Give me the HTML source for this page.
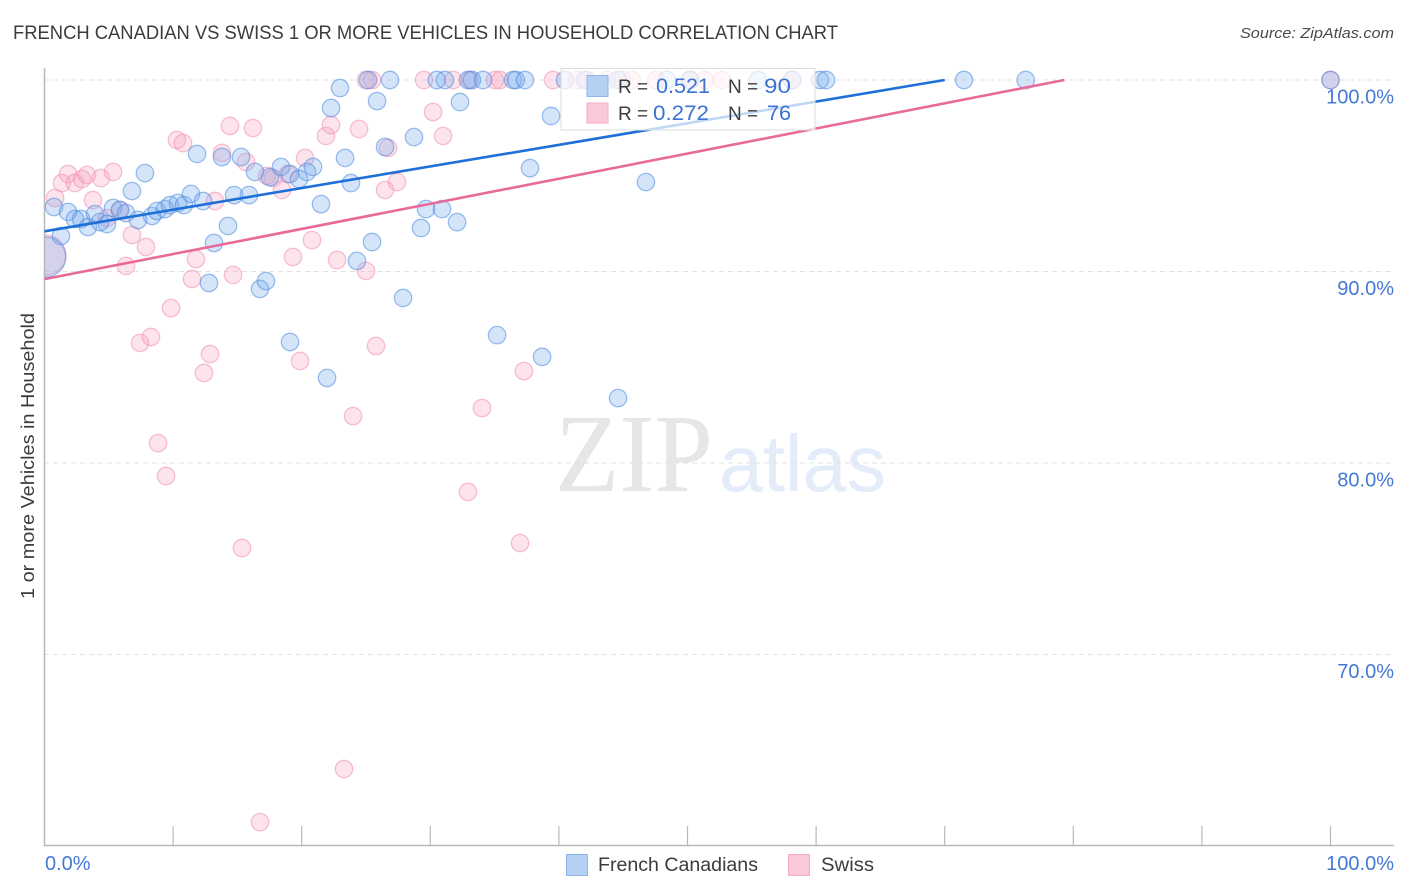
<!DOCTYPE html>
<html lang="en">
<head>
<meta charset="utf-8">
<title>French Canadian vs Swiss 1 or More Vehicles in Household Correlation Chart</title>
<style>
html,body{margin:0;padding:0;background:#fff;width:1406px;height:892px;overflow:hidden}
svg{display:block;font-family:"Liberation Sans",sans-serif}
</style>
</head>
<body>
<svg id="chart" width="1406" height="892" viewBox="0 0 1406 892">
  <defs><clipPath id="plot-clip"><rect x="45" y="60" width="1349" height="785"/></clipPath></defs>
  <text x="13" y="39" font-size="19" fill="#3c3c3c" textLength="825" lengthAdjust="spacingAndGlyphs">FRENCH CANADIAN VS SWISS 1 OR MORE VEHICLES IN HOUSEHOLD CORRELATION CHART</text>
  <text x="1394" y="38" font-size="15" font-style="italic" fill="#4a4a4a" text-anchor="end" textLength="154" lengthAdjust="spacingAndGlyphs">Source: ZipAtlas.com</text>
  <text x="555" y="491" font-size="111" font-family="'Liberation Serif',serif" fill="#e6e6e6" textLength="158" lengthAdjust="spacingAndGlyphs">ZIP</text>
  <text x="719" y="491" font-size="80" fill="#e3ecf8" textLength="167" lengthAdjust="spacingAndGlyphs">atlas</text>
  <g id="grid"></g>
  <g id="axes"></g>
  <g id="pink-points" clip-path="url(#plot-clip)"></g>
  <g id="blue-points" clip-path="url(#plot-clip)"></g>
  <g id="trends"></g>
  <text x="34" y="456" font-size="18.5" fill="#3c3c3c" text-anchor="middle" transform="rotate(-90 34 456)" textLength="286" lengthAdjust="spacingAndGlyphs">1 or more Vehicles in Household</text>

  <g>
    <rect x="561" y="68.5" width="254" height="61.5" fill="#fff" fill-opacity="0.72" stroke="#dcdcdc"/>
    <rect x="587" y="75.5" width="21" height="21" fill="#b5d0f3" stroke="#8fb6ea"/>
    <rect x="587" y="103" width="21" height="20" fill="#fcc9da" stroke="#f3aac3"/>
    <text x="618" y="93" font-size="19" fill="#3c3c3c">R =</text>
    <text x="656" y="93" font-size="21" fill="#3b73d1" textLength="54" lengthAdjust="spacingAndGlyphs">0.521</text>
    <text x="728" y="93" font-size="19" fill="#3c3c3c">N =</text>
    <text x="764" y="93" font-size="21" fill="#3b73d1" textLength="27" lengthAdjust="spacingAndGlyphs">90</text>
    <text x="618" y="120" font-size="19" fill="#3c3c3c">R =</text>
    <text x="653" y="120" font-size="21" fill="#3b73d1" textLength="56" lengthAdjust="spacingAndGlyphs">0.272</text>
    <text x="728" y="120" font-size="19" fill="#3c3c3c">N =</text>
    <text x="767" y="120" font-size="21" fill="#3b73d1" textLength="24" lengthAdjust="spacingAndGlyphs">76</text>
  </g>

  <g>
    <rect x="566.5" y="854.5" width="21" height="21" fill="#b5d0f3" stroke="#8fb6ea"/>
    <text x="598" y="871" font-size="19" fill="#3c3c3c" textLength="160" lengthAdjust="spacingAndGlyphs">French Canadians</text>
    <rect x="788.5" y="854.5" width="21" height="21" fill="#fcc9da" stroke="#f3aac3"/>
    <text x="821" y="871" font-size="19" fill="#3c3c3c" textLength="53" lengthAdjust="spacingAndGlyphs">Swiss</text>
  </g>
</svg>
<script>
const blueX = [0.74,1.83,1.28,2.37,2.84,3.38,3.93,4.32,4.86,5.33,5.87,6.34,6.80,7.27,7.81,8.36,8.75,9.37,9.76,10.38,10.85,11.39,11.86,12.33,13.18,12.79,13.80,14.27,14.74,15.28,15.90,16.37,16.76,17.22,17.53,18.39,19.09,19.09,19.79,20.41,20.88,21.50,21.97,22.28,22.98,23.37,23.83,24.30,25.47,25.86,26.48,27.88,28.73,29.28,29.67,30.91,32.08,32.31,35.19,37.75,38.69,39.39,44.60,46.77,25.16,26.87,30.5,31.14,32.93,33.24,34.1,36.43,36.66,37.36,40.47,42.0,44.6,48.4,50.2,55.48,58.13,60.3,60.77,71.5,76.3,100,0.1];
const blueY = [93.37,93.11,91.85,92.74,92.74,92.32,93.00,92.58,92.48,93.32,93.21,93.05,94.20,92.69,95.14,92.90,93.16,93.26,93.47,93.58,93.47,94.05,96.14,93.68,91.49,89.40,95.98,92.38,93.99,95.98,93.99,95.20,89.09,89.50,94.93,95.46,86.32,95.09,94.83,95.20,95.46,93.52,84.44,98.54,99.58,95.93,94.62,90.55,91.54,98.90,96.50,88.62,97.02,92.27,93.26,93.26,92.58,98.85,86.68,95.40,85.54,98.12,83.39,94.67,100,100,100,100,100,100,100,100,100,100,100,100,100,100,100,100,100,100,100,100,100,100,90.76];
const blueSizes = [1,1,1,1,1,1,1,1,1,1,1,1,1,1,1,1,1,1,1,1,1,1,1,1,1,1,1,1,1,1,1,1,1,1,1,1,1,1,1,1,1,1,1,1,1,1,1,1,1,1,1,1,1,1,1,1,1,1,1,1,1,1,1,1,1,1,1,1,1,1,1,1,1,1,1,1,1,1,1,1,1,1,1,1,1,1,2.3];
const pinkX = [0.82,1.36,1.83,2.37,2.92,3.30,3.77,4.39,4.86,5.33,5.87,6.34,6.80,7.43,7.89,8.28,8.83,9.45,9.84,10.30,10.77,11.47,11.78,12.40,12.87,13.26,13.80,14.42,14.66,15.36,15.67,16.21,16.76,17.30,17.77,18.47,18.93,19.32,19.87,20.26,20.80,21.89,22.28,22.75,23.29,23.99,24.46,25.0,25.78,26.48,26.71,27.41,30.21,30.99,32.93,34.02,36.98,37.28,25.0,25.47,29.51,31.77,33.09,35.03,35.42,39.54,41.4,42.18,43.74,44.9,45.68,47.55,50.19,51.36,52.68,58.13,100,0.1];
const pinkY = [93.84,94.62,95.09,94.62,94.83,95.04,93.73,94.88,92.79,95.20,93.21,90.29,91.91,86.27,91.28,86.58,81.04,79.32,88.09,96.87,96.71,89.61,90.65,84.70,85.69,93.68,96.19,97.60,89.82,75.56,95.72,97.49,61.25,94.99,94.88,94.26,95.09,90.76,85.33,95.93,91.64,97.08,97.65,90.60,64.02,82.45,97.44,90.03,86.11,94.26,96.45,94.67,98.33,97.08,78.49,82.87,75.82,84.80,100,100,100,100,100,100,100,100,100,100,100,100,100,100,100,100,100,100,100,90.86];
const pinkSizes = pinkX.map((v, i) => i === pinkX.length - 1 ? 2.3 : 1);
const trendBlueX = [0, 70.0];
const trendBlueY = [92.1, 100];
const trendPinkX = [0, 79.3];
const trendPinkY = [89.6, 100];
const yTicks = [100, 90, 80, 70];
const yTickLabels = ['100.0%', '90.0%', '80.0%', '70.0%'];
const xTicks = [10, 20, 30, 40, 50, 60, 70, 80, 90, 100];
const xEndLabels = ['0.0%', '100.0%'];

const NS = 'http://www.w3.org/2000/svg';
const sx = v => 44.5 + v * 12.86;
const sy = v => 80 + (100 - v) * 19.15;
function make(tag, attrs, parent) {
  const el = document.createElementNS(NS, tag);
  for (const k in attrs) el.setAttribute(k, attrs[k]);
  parent.appendChild(el);
  return el;
}
const grid = document.getElementById('grid');
const axes = document.getElementById('axes');
yTicks.forEach((t, i) => {
  const line = make('line', {x1: 44, x2: 1394, y1: sy(t), y2: sy(t), stroke: '#e2e2e2', 'stroke-dasharray': '5 4', 'stroke-width': 1}, grid);
  
  
  const label = make('text', {x: 1394, y: sy(t) + 23.5, 'font-size': 20, fill: '#4579d6', 'text-anchor': 'end'}, axes);
  label.textContent = yTickLabels[i];
  
  
});
const yAxis = make('line', {x1: 44.5, x2: 44.5, y1: 68, y2: 846, stroke: '#b8b8b8', 'stroke-width': 1.5}, axes);


const xAxis = make('line', {x1: 44, x2: 1394, y1: 845.5, y2: 845.5, stroke: '#b8b8b8', 'stroke-width': 1.5}, axes);


xTicks.forEach(t => {
  const tick = make('line', {x1: sx(t), x2: sx(t), y1: 826, y2: 845, stroke: '#b8b8b8', 'stroke-width': 1.2}, axes);
  
  
});
const x0 = make('text', {x: 45, y: 870, 'font-size': 20, fill: '#4579d6'}, axes);
x0.textContent = xEndLabels[0];


const x1 = make('text', {x: 1394, y: 870, 'font-size': 20, fill: '#4579d6', 'text-anchor': 'end'}, axes);
x1.textContent = xEndLabels[1];



function drawPoints(xs, ys, sizes, groupId, fill, stroke) {
  const g = document.getElementById(groupId);
  xs.forEach((v, i) => {
    const c = make('circle', {cx: sx(v), cy: sy(ys[i]), r: 8.7 * sizes[i], fill: fill, 'fill-opacity': 0.3, stroke: stroke, 'stroke-opacity': 0.55, 'stroke-width': 1.3}, g);
    
    
  });
}
drawPoints(pinkX, pinkY, pinkSizes, 'pink-points', '#f7a3bf', '#ef8fb0');
drawPoints(blueX, blueY, blueSizes, 'blue-points', '#74a8ea', '#4f8ade');

const trends = document.getElementById('trends');
const tb = make('line', {x1: sx(trendBlueX[0]), y1: sy(trendBlueY[0]), x2: sx(trendBlueX[1]), y2: sy(trendBlueY[1]), stroke: '#1f6fd9', 'stroke-width': 2.6}, trends);


const tp = make('line', {x1: sx(trendPinkX[0]), y1: sy(trendPinkY[0]), x2: sx(trendPinkX[1]), y2: sy(trendPinkY[1]), stroke: '#e86a9b', 'stroke-width': 2.6}, trends);


</script>
</body>
</html>
